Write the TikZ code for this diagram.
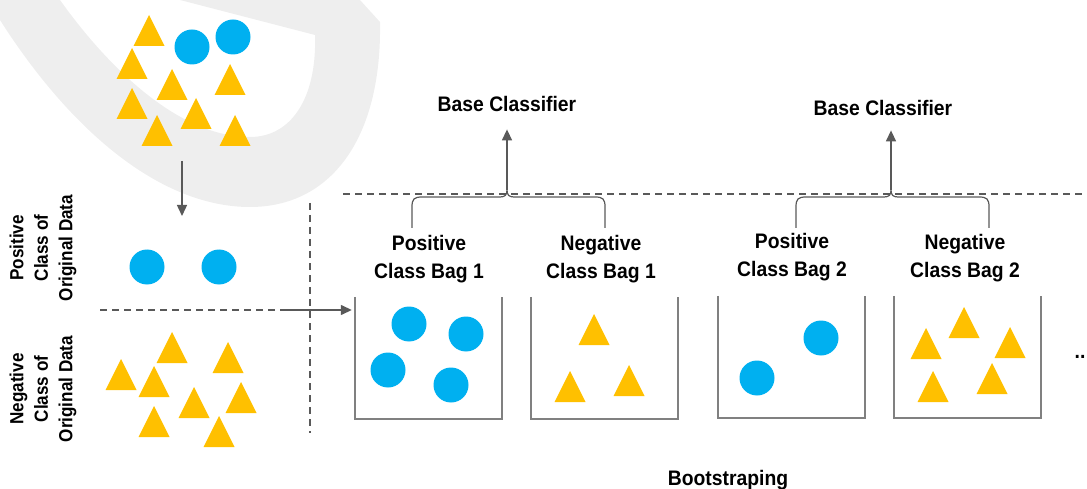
\documentclass[tikz,border=0pt]{standalone}
\usepackage{fontspec}
\setmainfont{Liberation Sans}
\newfontfamily\labfont[FakeStretch=0.92]{Liberation Sans}
\newfontfamily\sidefont[FakeStretch=0.90]{Liberation Sans}
\usetikzlibrary{arrows.meta}
\definecolor{cblue}{HTML}{00B0F0}
\definecolor{cyel}{HTML}{FFC000}
\definecolor{cline}{HTML}{595959}
\definecolor{cband}{HTML}{EEEEEE}
\definecolor{cbag}{HTML}{808080}
\tikzset{
  lab/.style={font=\labfont\bfseries\fontsize{21}{28}\selectfont, align=center, text=black, inner sep=0pt},
  side/.style={font=\sidefont\bfseries\fontsize{19}{24.5}\selectfont, align=center, rotate=90, text=black, inner sep=0pt},
  arr/.style={draw=cline, line width=1.4pt, -{Triangle[length=11pt,width=10pt]}},
  dashline/.style={draw=cline, line width=1.6pt, dash pattern=on 7pt off 5pt},
  bracepath/.style={draw=cline, line width=1.2pt},
  bagline/.style={draw=cbag, line width=1.5pt},
  bagbox/.style={minimum width=147pt, minimum height=122pt, inner sep=0pt, draw=none},
  trifill/.style={fill=cyel},
  dotfill/.style={fill=cblue},
}
\newcommand{\tri}[2]{\fill[trifill] (#1,#2) -- ++(-15.5,31) -- ++(31,0) -- cycle;}
\newcommand{\dotc}[2]{\fill[dotfill] (#1,#2) circle (17.5);}
\begin{document}
\begin{tikzpicture}[x=1pt,y=-1pt]
\useasboundingbox (0,0) rectangle (1087,489);
% background band
\fill[cband, even odd rule]
  (0,0) -- (0,20) .. controls (70,130) and (160,207) .. (250,207)
  .. controls (330,207) and (382,140) .. (380,22) -- (360,0) -- cycle
  (60,0) .. controls (110,70) and (180,137) .. (250,137)
  .. controls (290,137) and (317,100) .. (315,35) -- (180,0) -- cycle;

% original data cluster
\tri{149}{15} \tri{132}{48} \tri{172}{69} \tri{230}{64}
\tri{132}{88} \tri{157}{115} \tri{196}{98} \tri{235}{115}
\dotc{192}{47} \dotc{233}{37}

\coordinate (origbot) at (182,161);
\coordinate (postop) at (182,216);
\draw[arr] (origbot) -- (postop);

% positive class of original data
\dotc{147}{267} \dotc{219}{267}
\node[side] (poslab) at (43,248) {Positive\\Class of\\Original Data};

% negative class
\tri{172}{332} \tri{121}{359} \tri{154}{366} \tri{228}{342}
\tri{194}{387} \tri{241}{382} \tri{154}{406} \tri{219}{416}
\node[side] (neglab) at (43,389) {Negative\\Class of\\Original Data};

% separators
\coordinate (hl) at (100,310);
\coordinate (hsplit) at (285,310);
\draw[dashline] (hl) -- (hsplit);
\coordinate (vtop) at (310,203);
\coordinate (vbot) at (310,433);
\draw[dashline] (vtop) -- (vbot);
\coordinate (tl) at (343,194);
\coordinate (tr) at (1083,194);
\draw[dashline] (tl) -- (tr);

% bags
\node[bagbox] (bag1) at (428.5,358) {};
\node[bagbox] (bag2) at (604.5,358) {};
\node[bagbox] (bag3) at (791.5,357) {};
\node[bagbox] (bag4) at (967.5,357) {};
\foreach \b in {bag1,bag2,bag3,bag4}
  \draw[bagline] (\b.north west) -- (\b.south west) -- (\b.south east) -- (\b.north east);

\draw[arr] (hsplit) -- ([xshift=-3pt]bag1.west |- hsplit);

% bag contents
\dotc{409}{324} \dotc{466}{334} \dotc{388}{370} \dotc{451}{385}
\tri{594}{314} \tri{570}{371} \tri{629}{365}
\dotc{821}{338} \dotc{757}{378}
\tri{964}{307} \tri{926}{328} \tri{1010}{327} \tri{933}{371} \tri{992}{363}
\node[lab, anchor=base] (more) at (1080,358) {..};

% labels
\node[lab] (pb1) at (429,259) {Positive\\Class Bag 1};
\node[lab] (nb1) at (601,259) {Negative\\Class Bag 1};
\node[lab] (pb2) at (792,257) {Positive\\Class Bag 2};
\node[lab] (nb2) at (965,258) {Negative\\Class Bag 2};
\node[lab, anchor=base] (bc1) at (507,112) {Base Classifier};
\node[lab, anchor=base] (bc2) at (883,116) {Base Classifier};
\node[lab, anchor=base] (boot) at (728,485) {Bootstraping};

% braces
\coordinate (b1tip) at (507,190);
\draw[bracepath] (412,228) -- (412,207) .. controls (412,199) and (414,197) .. (422,197)
  -- (500,197) .. controls (505,197) and (507,195) .. (b1tip)
  .. controls (507,195) and (509,197) .. (514,197) -- (595,197)
  .. controls (603,197) and (605,199) .. (605,207) -- (605,228);
\coordinate (b2tip) at (891,190);
\draw[bracepath] (796,228) -- (796,207) .. controls (796,199) and (798,197) .. (806,197)
  -- (884,197) .. controls (889,197) and (891,195) .. (b2tip)
  .. controls (891,195) and (893,197) .. (898,197) -- (979,197)
  .. controls (987,197) and (989,199) .. (989,207) -- (989,228);
\draw[arr] (b1tip) -- ([yshift=-17pt]b1tip |- bc1.south);
\draw[arr] (b2tip) -- ([yshift=-14pt]b2tip |- bc2.south);
\end{tikzpicture}
\end{document}
